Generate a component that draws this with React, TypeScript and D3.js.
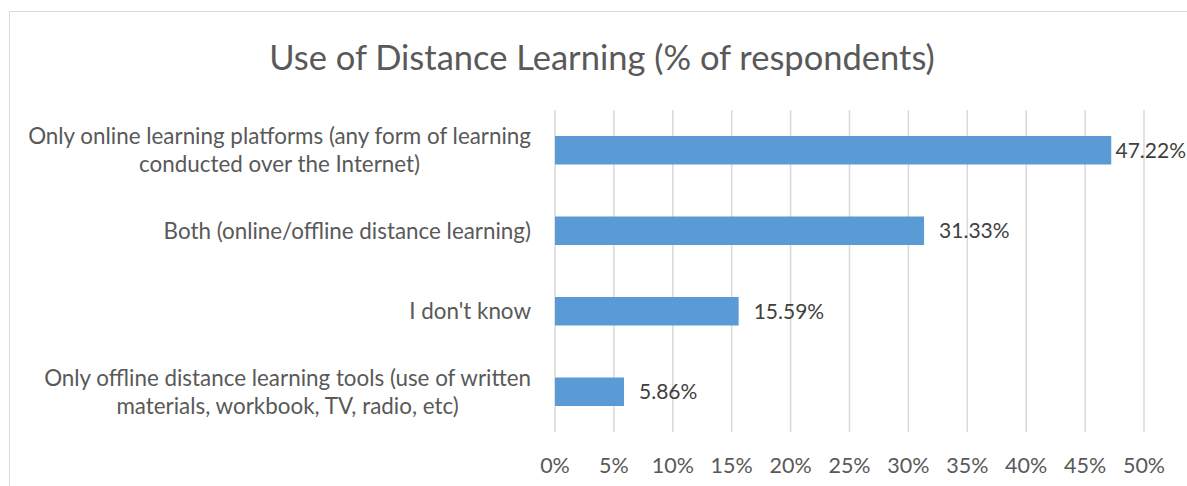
import React, { useEffect, useRef } from "react";
import * as d3 from "d3";

const title = "Use of Distance Learning (% of respondents)";
const categories: string[][] = [
  ["Only online learning platforms (any form of learning", "conducted over the Internet)"],
  ["Both (online/offline distance learning)"],
  ["I don't know"],
  ["Only offline distance learning tools (use of written", "materials, workbook, TV, radio, etc)"],
];
const values = [47.22, 31.33, 15.59, 5.86];
const tickValues = [0, 5, 10, 15, 20, 25, 30, 35, 40, 45, 50];

const W = 1187;
const H = 486;
const FONT = "Lato, 'Open Sans', sans-serif";
const TEXT = "#595959";

export default function App() {
  const ref = useRef<SVGSVGElement | null>(null);

  useEffect(() => {
    const svg = d3.select(ref.current);
    svg.selectAll("*").remove();

    const left = 555, right = 1144, top = 110, bottom = 432;
    const x = d3.scaleLinear().domain([0, 50]).range([left, right]);
    const y = d3
      .scaleBand<number>()
      .domain(values.map((_, i) => i))
      .range([top, bottom])
      .paddingInner(0.646)
      .paddingOuter(0.323);

    svg.append("rect").attr("x", 0).attr("y", 0).attr("width", W).attr("height", H).attr("fill", "#fff");
    svg
      .append("rect")
      .attr("x", 9.5)
      .attr("y", 11.5)
      .attr("width", W + 20)
      .attr("height", H + 20)
      .attr("fill", "none")
      .attr("stroke", "#d9d9d9")
      .attr("stroke-width", 1);

    svg
      .append("text")
      .attr("x", 602)
      .attr("y", 70)
      .attr("text-anchor", "middle")
      .attr("font-family", FONT)
      .attr("font-size", 34.5)
      .attr("fill", TEXT)
      .text(title);

    svg
      .append("g")
      .selectAll("line")
      .data(tickValues)
      .join("line")
      .attr("x1", (d) => x(d))
      .attr("x2", (d) => x(d))
      .attr("y1", top)
      .attr("y2", bottom)
      .attr("stroke", "#d9d9d9")
      .attr("stroke-width", 1.5);

    svg
      .append("g")
      .selectAll("text")
      .data(tickValues)
      .join("text")
      .attr("x", (d) => x(d))
      .attr("y", 473)
      .attr("text-anchor", "middle")
      .attr("font-family", FONT)
      .attr("font-size", 21.5)
      .attr("fill", TEXT)
      .text((d) => d + "%");

    svg
      .append("g")
      .selectAll("rect")
      .data(values)
      .join("rect")
      .attr("x", x(0))
      .attr("y", (_, i) => y(i)!)
      .attr("width", (d) => x(d) - x(0))
      .attr("height", y.bandwidth())
      .attr("fill", "#5B9BD5");

    const vl = svg
      .append("g")
      .selectAll("text")
      .data(values)
      .join("text")
      .attr("y", (_, i) => y(i)! + y.bandwidth() / 2 + 7.5)
      .attr("font-family", FONT)
      .attr("font-size", 21)
      .attr("fill", "#404040")
      .text((d) => d.toFixed(2) + "%");
    vl.each(function (d) {
      const el = this as SVGTextElement;
      const w = el.getComputedTextLength();
      const xs = Math.min(x(d) + 15, W - 1 - w);
      d3.select(el).attr("x", xs);
    });

    const labelRight = 531;
    const lineH = 28;
    categories.forEach((lines, i) => {
      const cy = y(i)! + y.bandwidth() / 2;
      const g = svg.append("g");
      const texts = lines.map((ln, j) =>
        g
          .append("text")
          .attr("y", cy + (j - (lines.length - 1) / 2) * lineH + 8)
          .attr("text-anchor", "middle")
          .attr("font-family", FONT)
          .attr("font-size", 22.4)
          .attr("fill", TEXT)
          .text(ln)
      );
      const widths = texts.map((t) => (t.node() as SVGTextElement).getComputedTextLength());
      const maxW = Math.max(...widths);
      const cx = labelRight - maxW / 2;
      texts.forEach((t) => t.attr("x", cx));
    });
  }, []);

  return (
    <svg
      ref={ref}
      width={W}
      height={H}
      style={{ position: "absolute", left: 0, top: 0, display: "block" }}
    />
  );
}
